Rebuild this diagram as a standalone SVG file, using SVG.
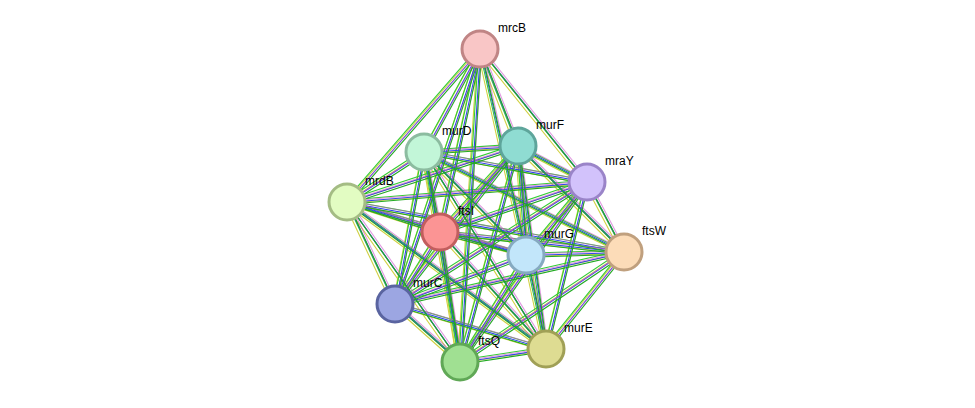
<svg xmlns="http://www.w3.org/2000/svg" xmlns:xlink="http://www.w3.org/1999/xlink" width="975" height="408" viewBox="0 0 975 408">
<style>
.n{stroke-width:3}
text{font-family:"Liberation Sans",Arial,sans-serif;font-size:12px;fill:#000}
</style>
<defs>
<g id="e" fill="none" stroke-width="1.1">
<line x1="480" y1="49" x2="424" y2="152"/><line x1="480" y1="49" x2="518" y2="146"/><line x1="480" y1="49" x2="587" y2="182"/><line x1="480" y1="49" x2="347" y2="202"/><line x1="480" y1="49" x2="440" y2="232"/><line x1="480" y1="49" x2="526" y2="255"/><line x1="480" y1="49" x2="460" y2="362"/><line x1="480" y1="49" x2="395" y2="304"/>
<line x1="424" y1="152" x2="518" y2="146"/><line x1="424" y1="152" x2="587" y2="182"/><line x1="424" y1="152" x2="347" y2="202"/><line x1="424" y1="152" x2="440" y2="232"/><line x1="424" y1="152" x2="526" y2="255"/><line x1="424" y1="152" x2="624" y2="252"/><line x1="424" y1="152" x2="395" y2="304"/><line x1="424" y1="152" x2="546" y2="349"/><line x1="424" y1="152" x2="460" y2="362"/>
<line x1="518" y1="146" x2="587" y2="182"/><line x1="518" y1="146" x2="347" y2="202"/><line x1="518" y1="146" x2="440" y2="232"/><line x1="518" y1="146" x2="526" y2="255"/><line x1="518" y1="146" x2="624" y2="252"/><line x1="518" y1="146" x2="395" y2="304"/><line x1="518" y1="146" x2="546" y2="349"/><line x1="518" y1="146" x2="460" y2="362"/>
<line x1="587" y1="182" x2="347" y2="202"/><line x1="587" y1="182" x2="440" y2="232"/><line x1="587" y1="182" x2="526" y2="255"/><line x1="587" y1="182" x2="624" y2="252"/><line x1="587" y1="182" x2="395" y2="304"/><line x1="587" y1="182" x2="546" y2="349"/><line x1="587" y1="182" x2="460" y2="362"/>
<line x1="347" y1="202" x2="440" y2="232"/><line x1="347" y1="202" x2="526" y2="255"/><line x1="347" y1="202" x2="624" y2="252"/><line x1="347" y1="202" x2="395" y2="304"/><line x1="347" y1="202" x2="546" y2="349"/><line x1="347" y1="202" x2="460" y2="362"/>
<line x1="440" y1="232" x2="526" y2="255"/><line x1="440" y1="232" x2="624" y2="252"/><line x1="440" y1="232" x2="395" y2="304"/><line x1="440" y1="232" x2="546" y2="349"/><line x1="440" y1="232" x2="460" y2="362"/>
<line x1="526" y1="255" x2="624" y2="252"/><line x1="526" y1="255" x2="395" y2="304"/><line x1="526" y1="255" x2="546" y2="349"/><line x1="526" y1="255" x2="460" y2="362"/>
<line x1="624" y1="252" x2="395" y2="304"/><line x1="624" y1="252" x2="546" y2="349"/><line x1="624" y1="252" x2="460" y2="362"/>
<line x1="395" y1="304" x2="546" y2="349"/><line x1="395" y1="304" x2="460" y2="362"/>
<line x1="546" y1="349" x2="460" y2="362"/>
</g>
</defs>
<rect width="975" height="408" fill="#fff"/>
<g id="connectors">
<use xlink:href="#e" stroke="#d0d040" transform="translate(-2.5,1.5)"/>
<use xlink:href="#e" stroke="#33cc33" transform="translate(-1.2,-1.8)"/>
<use xlink:href="#e" stroke="#3344ee" transform="translate(0.5,0.5)"/>
<use xlink:href="#e" stroke="#cc55cc" stroke-opacity="0.6" transform="translate(2,-1)"/>
<use xlink:href="#e" stroke="#22aa22" transform="translate(1.5,2.2)"/>
</g>
<g id="mrcB"><circle class="n" cx="480" cy="49" r="18" fill="#f9c6c6" stroke="#c08585"/><text x="498" y="32">mrcB</text></g>
<g id="murD"><circle class="n" cx="424" cy="152" r="18" fill="#c2f6d8" stroke="#8cbca0"/><text x="442" y="135">murD</text></g>
<g id="murF"><circle class="n" cx="518" cy="146" r="18" fill="#8fdcd2" stroke="#5ea59b"/><text x="536" y="129">murF</text></g>
<g id="mraY"><circle class="n" cx="587" cy="182" r="18" fill="#d2c2fb" stroke="#9a84c8"/><text x="605" y="165">mraY</text></g>
<g id="mrdB"><circle class="n" cx="347" cy="202" r="18" fill="#e2fcc2" stroke="#a4bc84"/><text x="365" y="185">mrdB</text></g>
<g id="ftsI"><circle class="n" cx="440" cy="232" r="18" fill="#fb9494" stroke="#c25e5e"/><text x="458" y="215">ftsI</text></g>
<g id="murG"><circle class="n" cx="526" cy="255" r="18" fill="#c2e6fa" stroke="#86aac0"/><text x="544" y="238">murG</text></g>
<g id="ftsW"><circle class="n" cx="624" cy="252" r="18" fill="#fcdcb8" stroke="#c0a07e"/><text x="642" y="235">ftsW</text></g>
<g id="murC"><circle class="n" cx="395" cy="304" r="18" fill="#9ca6e2" stroke="#5a64a0"/><text x="413" y="287">murC</text></g>
<g id="murE"><circle class="n" cx="546" cy="349" r="18" fill="#dedc92" stroke="#a0a056"/><text x="564" y="332">murE</text></g>
<g id="ftsQ"><circle class="n" cx="460" cy="362" r="18" fill="#a0e092" stroke="#60a856"/><text x="478" y="345">ftsQ</text></g>
</svg>
